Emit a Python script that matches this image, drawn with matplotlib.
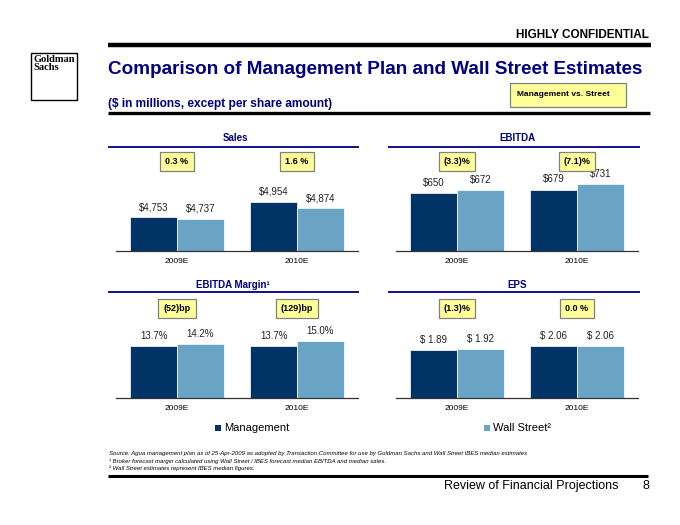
import matplotlib
matplotlib.use("Agg")
import matplotlib.pyplot as plt
from matplotlib.lines import Line2D
from matplotlib.patches import Rectangle
import numpy as np

plt.rcParams["font.family"] = ["Liberation Sans", "DejaVu Sans"]

categories = ["2009E", "2010E"]

sales_mgmt = [4753, 4954]
sales_ws = [4737, 4874]
sales_diff = ["0.3 %", "1.6 %"]

ebitda_mgmt = [650, 679]
ebitda_ws = [672, 731]
ebitda_diff = ["(3.3)%", "(7.1)%"]

margin_mgmt = [13.7, 13.7]
margin_ws = [14.2, 15.0]
margin_diff = ["(52)bp", "(129)bp"]

eps_mgmt = [1.89, 2.06]
eps_ws = [1.92, 2.06]
eps_diff = ["(1.3)%", "0.0 %"]

NAVY = "#000080"
MGMT = "#003366"
WS = "#6aa4c4"
YELLOW = "#ffff99"

W, H = 680, 525
fig = plt.figure(figsize=(W / 100, H / 100), dpi=100)


def fx(x):
    return x / W


def fy(y):
    return 1 - y / H


def hline(x0, x1, y, lw, color="black"):
    fig.add_artist(Line2D([fx(x0), fx(x1)], [fy(y), fy(y)], transform=fig.transFigure,
                          color=color, lw=lw, solid_capstyle="butt"))


# header
fig.text(fx(649), fy(35), "HIGHLY CONFIDENTIAL", ha="right", va="center",
         fontsize=8.5, fontweight="bold")
hline(108, 651, 44.5, 3.2)
fig.text(fx(108), fy(69), "Comparison of Management Plan and Wall Street Estimates",
         ha="left", va="center", fontsize=13.6, fontweight="bold", color=NAVY)
fig.text(fx(108), fy(104), "($ in millions, except per share amount)",
         ha="left", va="center", fontsize=8.6, fontweight="bold", color=NAVY)
hline(108, 650, 113, 2.4)

# vs box
fig.add_artist(Rectangle((fx(510), fy(107)), fx(116), 24 / H, transform=fig.transFigure,
                         facecolor=YELLOW, edgecolor="#808080", lw=0.9))
fig.text(fx(517), fy(94), "Management vs. Street", ha="left", va="center",
         fontsize=6, fontweight="bold")

# logo
fig.add_artist(Rectangle((fx(31), fy(100)), fx(46), 47 / H, transform=fig.transFigure,
                         facecolor="white", edgecolor="black", lw=1))
fig.text(fx(33), fy(55), "Goldman\nSachs", ha="left", va="top", fontsize=7.5,
         family="Liberation Serif", fontweight="bold", linespacing=0.8)


def panel(left, baseline, height, title, title_x, title_y, line_y, line_x0, line_x1,
          mgmt, ws, diffs, fmt, ylim, badge_y):
    ax = fig.add_axes([fx(left), fy(baseline), 242 / W, height / H])
    x = np.arange(len(categories))
    bw = 0.39
    ax.bar(x - bw / 2, mgmt, bw, color=MGMT, edgecolor="white", lw=0.5)
    ax.bar(x + bw / 2, ws, bw, color=WS, edgecolor="white", lw=0.5)
    for xi, m, s in zip(x, mgmt, ws):
        ax.annotate(fmt(m), (xi - bw / 2, m), xytext=(0, 7.3), textcoords="offset points",
                    ha="center", va="center", fontsize=7, color="#222222")
        ax.annotate(fmt(s), (xi + bw / 2, s), xytext=(0, 7.3), textcoords="offset points",
                    ha="center", va="center", fontsize=7, color="#222222")
    for xi, d in zip(x, diffs):
        ax.text(xi, badge_y, d, transform=ax.get_xaxis_transform(), ha="center", va="center",
                fontsize=6.5, fontweight="bold",
                bbox=dict(boxstyle="square,pad=0.55", facecolor=YELLOW, edgecolor="#808080", lw=0.9))
    ax.set_xlim(-0.508, 1.508)
    ax.set_ylim(*ylim)
    ax.set_xticks(x)
    ax.set_xticklabels(categories, fontsize=6)
    ax.tick_params(axis="x", length=0, pad=5)
    ax.set_yticks([])
    for sp in ["top", "left", "right"]:
        ax.spines[sp].set_visible(False)
    ax.spines["bottom"].set_color("#333333")
    ax.spines["bottom"].set_linewidth(0.9)
    ax.patch.set_alpha(0)
    fig.text(fx(title_x), fy(title_y), title, ha="center", va="center", fontsize=7,
             fontweight="bold", color=NAVY)
    hline(line_x0, line_x1, line_y, 1.3, NAVY)
    return ax


panel(116, 251, 101, "Sales", 235, 138, 147, 108, 359, sales_mgmt, sales_ws, sales_diff,
      lambda v: f"${v:,.0f}", (4310, 5640), 0.89)
panel(396, 251, 101, "EBITDA", 517, 138, 147, 388, 640, ebitda_mgmt, ebitda_ws, ebitda_diff,
      lambda v: f"${v:,.0f}", (107, 1047), 0.89)
panel(116, 398, 98, "EBITDA Margin¹", 233, 285, 292, 108, 359, margin_mgmt, margin_ws,
      margin_diff, lambda v: f"{v:.1f}%", (0, 25.8), 0.915)
panel(396, 398, 98, "EPS", 517, 285, 292, 388, 640, eps_mgmt, eps_ws, eps_diff,
      lambda v: f"$ {v:.2f}", (0, 3.87), 0.915)

# legend
fig.add_artist(Rectangle((fx(215), fy(431)), 6 / W, 6 / H, transform=fig.transFigure,
                         facecolor=MGMT, edgecolor="none"))
fig.text(fx(224), fy(428), "Management", ha="left", va="center", fontsize=8)
fig.add_artist(Rectangle((fx(484), fy(431)), 6 / W, 6 / H, transform=fig.transFigure,
                         facecolor=WS, edgecolor="none"))
fig.text(fx(493), fy(428), "Wall Street²", ha="left", va="center", fontsize=8)

# footnotes
fig.text(fx(109), fy(454), "Source: Agua management plan as of 25-Apr-2009 as adopted by Transaction "
         "Committee for use by Goldman Sachs and Wall Street IBES median estimates",
         ha="left", va="center", fontsize=4.3, style="italic")
fig.text(fx(109), fy(461.5), "¹ Broker forecast margin calculated using Wall Street / IBES forecast "
         "median EBITDA and median sales.", ha="left", va="center", fontsize=4.3, style="italic")
fig.text(fx(109), fy(468.5), "² Wall Street estimates represent IBES median figures.",
         ha="left", va="center", fontsize=4.3, style="italic")
hline(108, 648, 476, 2.2)
fig.text(fx(618), fy(486), "Review of Financial Projections", ha="right", va="center", fontsize=9)
fig.text(fx(649), fy(486), "8", ha="right", va="center", fontsize=9)

fig.savefig("out.png", dpi=100)
